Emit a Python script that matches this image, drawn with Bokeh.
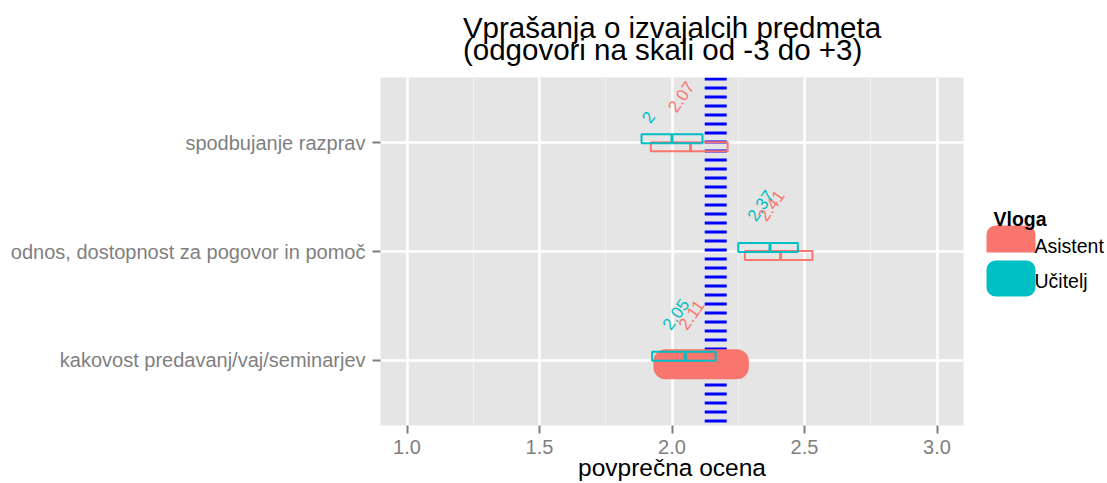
import math
from bokeh.plotting import figure
from bokeh.models import Range1d, FactorRange, FixedTicker, PrintfTickFormatter, Span, ColumnDataSource
from bokeh.transform import dodge
from bokeh.layouts import row
from bokeh.embed import file_html
from bokeh.resources import INLINE
from bokeh.core.properties import value

# ---------------- data ----------------
title_text = "Vprašanja o izvajalcih predmeta\n(odgovori na skali od -3 do +3)"
x_label = "povprečna ocena"
legend_title = "Vloga"
categories = ["spodbujanje razprav",
              "odnos, dostopnost za pogovor in pomoč",
              "kakovost predavanj/vaj/seminarjev"]
roles = ["Asistent", "Učitelj"]
role_colors = ["#F8766D", "#00BFC4"]
asistent_mean = [2.07, 2.41, 2.11]
asistent_low = [1.92, 2.275, 1.97]
asistent_high = [2.21, 2.53, 2.25]
ucitelj_mean = [2.00, 2.37, 2.05]
ucitelj_low = [1.885, 2.25, 1.925]
ucitelj_high = [2.115, 2.475, 2.165]
overall_mean = 2.165
x_ticks = [1.0, 1.5, 2.0, 2.5, 3.0]
x_minor_ticks = [1.25, 1.75, 2.25, 2.75]
x_limits = (0.9, 3.1)
blob_category = "kakovost predavanj/vaj/seminarjev"

FONT = "Liberation Sans"
GREY = "#7F7F7F"
H = 483
TOP, BOTTOM = 77, 58

# ---------------- main figure ----------------
y_range = FactorRange(factors=categories[::-1], range_padding=0.1, range_padding_units="absolute")
p = figure(width=973, height=H, x_range=Range1d(*x_limits), y_range=y_range,
           output_backend="svg", toolbar_location=None,
           min_border_left=380, min_border_right=10, min_border_top=TOP, min_border_bottom=BOTTOM)
p.background_fill_color = "#E5E5E5"
p.border_fill_color = "white"
p.outline_line_color = None

p.title.text = title_text
p.title.text_font = FONT
p.title.text_font_size = "29.5px"
p.title.text_font_style = "normal"
p.title.text_color = "black"
p.title.align = "center"
p.title.vertical_align = "top"
p.title.text_line_height = 0.66
p.title.standoff = 19

ticker = FixedTicker(ticks=x_ticks, minor_ticks=x_minor_ticks)
p.xaxis.ticker = ticker
p.xgrid.ticker = ticker
p.xaxis.formatter = PrintfTickFormatter(format="%.1f")
p.xaxis.axis_label = x_label
p.xaxis.axis_label_text_font = FONT
p.xaxis.axis_label_text_font_size = "24.5px"
p.xaxis.axis_label_text_font_style = "normal"
p.xaxis.axis_label_text_color = "black"
p.xaxis.axis_label_standoff = -3

for ax in (p.xaxis[0], p.yaxis[0]):
    ax.axis_line_color = None
    ax.major_tick_line_color = GREY
    ax.major_tick_line_width = 2
    ax.major_tick_in = 0
    ax.major_tick_out = 8
    ax.minor_tick_line_color = None
    ax.major_label_text_color = GREY
    ax.major_label_text_font = FONT
    ax.major_label_text_font_size = "20px"
p.xaxis.major_label_standoff = 6
p.yaxis.major_label_standoff = 7

p.xgrid.grid_line_color = "white"
p.xgrid.grid_line_width = 2.5
p.xgrid.minor_grid_line_color = "#F2F2F2"
p.xgrid.minor_grid_line_width = 1.2
p.ygrid.grid_line_color = "white"
p.ygrid.grid_line_width = 2.5

span = Span(location=overall_mean, dimension="height", line_color="blue",
            line_width=22, line_dash="3 6", level="underlay")
p.add_layout(span)

DODGE = 0.037
BOX_H = 0.083
role_offsets = [-DODGE, DODGE]
means = [asistent_mean, ucitelj_mean]
lows = [asistent_low, ucitelj_low]
highs = [asistent_high, ucitelj_high]

ANG = 55
LBL_PX = 17
a = math.radians(ANG)


def label_width(s):
    return LBL_PX * sum(0.556 if ch.isdigit() else 0.278 for ch in s)


for i, role in enumerate(roles):
    col = role_colors[i]
    off = role_offsets[i]
    labels = [f"{m:g}" for m in means[i]]
    xo = [-29.5 + 0.55 * label_width(s) * math.cos(a) for s in labels]
    yo = [-17.5 - 0.55 * label_width(s) * math.sin(a) for s in labels]
    src = ColumnDataSource(dict(cat=categories, mean=means[i], low=lows[i], high=highs[i],
                                label=labels, xo=xo, yo=yo))
    p.hbar(y=dodge("cat", off, range=p.y_range), left="low", right="high", height=BOX_H,
           fill_color=None, line_color=col, line_width=2, source=src)
    p.segment(x0="mean", x1="mean",
              y0=dodge("cat", off - BOX_H / 2, range=p.y_range),
              y1=dodge("cat", off + BOX_H / 2, range=p.y_range),
              line_color=col, line_width=3, source=src)
    if role == "Asistent":
        k = categories.index(blob_category)
        m = asistent_mean[k]
        bsrc = ColumnDataSource(dict(cat=[blob_category], left=[m - 0.18], right=[m + 0.18]))
        p.hbar(y=dodge("cat", off, range=p.y_range), left="left", right="right", height=0.276,
               fill_color=col, line_color=None, border_radius=12, source=bsrc)
    p.text(x="mean", y="cat", text="label", x_offset="xo", y_offset="yo", source=src,
           angle=ANG, angle_units="deg", text_align="left", text_baseline="middle",
           text_font=value(FONT), text_font_size=f"{LBL_PX}px", text_color=col)

# ---------------- legend figure (frame aligned with the main frame) ----------------
LW = 134
leg = figure(width=LW, height=H, x_range=Range1d(0, LW), y_range=Range1d(H - BOTTOM, TOP),
             output_backend="svg", toolbar_location=None, x_axis_type=None, y_axis_type=None,
             min_border_left=0, min_border_right=0, min_border_top=TOP, min_border_bottom=BOTTOM)
leg.title = None
leg.outline_line_color = None
leg.background_fill_color = "white"
leg.border_fill_color = "white"
leg.grid.visible = False

KEY_TOP0, KEY_STEP, KEY_H = 225, 35, 36
for i, role in enumerate(roles):
    top = KEY_TOP0 + i * KEY_STEP
    leg.quad(left=[5], right=[70], top=[top - 8], bottom=[top + KEY_H], fill_color="white", line_color=None)
    leg.quad(left=[13], right=[62], top=[top], bottom=[top + KEY_H], fill_color=role_colors[i],
             line_color=None, border_radius=9)
lsrc = ColumnDataSource(dict(x=[61] * len(roles),
                             y=[KEY_TOP0 + i * KEY_STEP + KEY_H / 2 + 2 for i in range(len(roles))],
                             t=roles))
leg.text(x="x", y="y", text="t", source=lsrc, text_align="left", text_baseline="middle",
         text_font=value(FONT), text_font_size="19.5px", text_color="black")
leg.text(x=[20], y=[218], text=[legend_title], text_align="left", text_baseline="alphabetic",
         text_font=value(FONT), text_font_size="19.5px", text_font_style="bold", text_color="black")
leg.quad(left=[10], right=[100], top=[188], bottom=[207], fill_color="white", line_color=None)

layout = row(p, leg)
open("out.html", "w").write(file_html(layout, INLINE))
